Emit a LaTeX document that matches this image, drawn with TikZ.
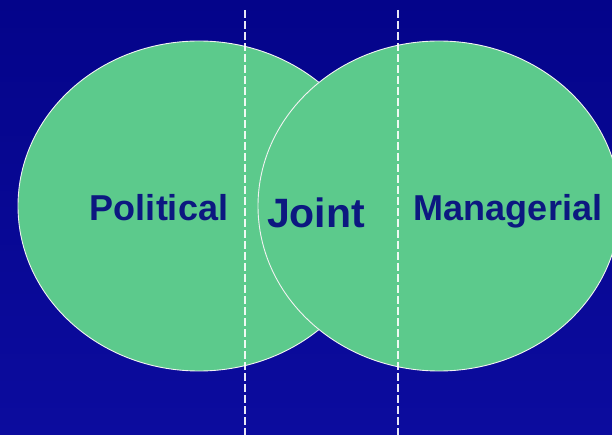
\documentclass[tikz,border=0pt]{standalone}
\usepackage{fontspec}
\setmainfont{Liberation Sans}
\definecolor{bgtop}{RGB}{4,4,138}
\definecolor{bgbot}{RGB}{12,12,158}
\definecolor{venngreen}{RGB}{92,202,140}
\definecolor{textnavy}{RGB}{12,24,128}
\begin{document}
\begin{tikzpicture}[x=1pt,y=-1pt,
  vennset/.style={fill=venngreen,draw=white!90!gray,line width=0.9pt},
  divider/.style={draw=white,line width=1.1pt,dash pattern=on 8pt off 3pt,opacity=0.9},
  label/.style={font=\bfseries\fontsize{36}{36}\selectfont,text=textnavy,anchor=base,inner sep=0pt}]
\shade[top color=bgtop,bottom color=bgbot] (0,0) rectangle (612,435);
\useasboundingbox (0,0) rectangle (612,435);
\path[vennset] (199,206) ellipse [x radius=181,y radius=165];
\path[vennset] (439,206) ellipse [x radius=181,y radius=165];
\coordinate (d1top) at (245,10);
\coordinate (d1bot) at (245,435);
\coordinate (d2top) at (398,10);
\coordinate (d2bot) at (398,435);
\draw[divider] (d1top) -- (d1bot);
\draw[divider] (d2top) -- (d2bot);
\node[label] (political) at (159,221) {Political};
\node[label,font=\bfseries\fontsize{41}{41}\selectfont] (joint) at (316,228) {Joint};
\node[label] (managerial) at (508,221) {Managerial};
\end{tikzpicture}
\end{document}
